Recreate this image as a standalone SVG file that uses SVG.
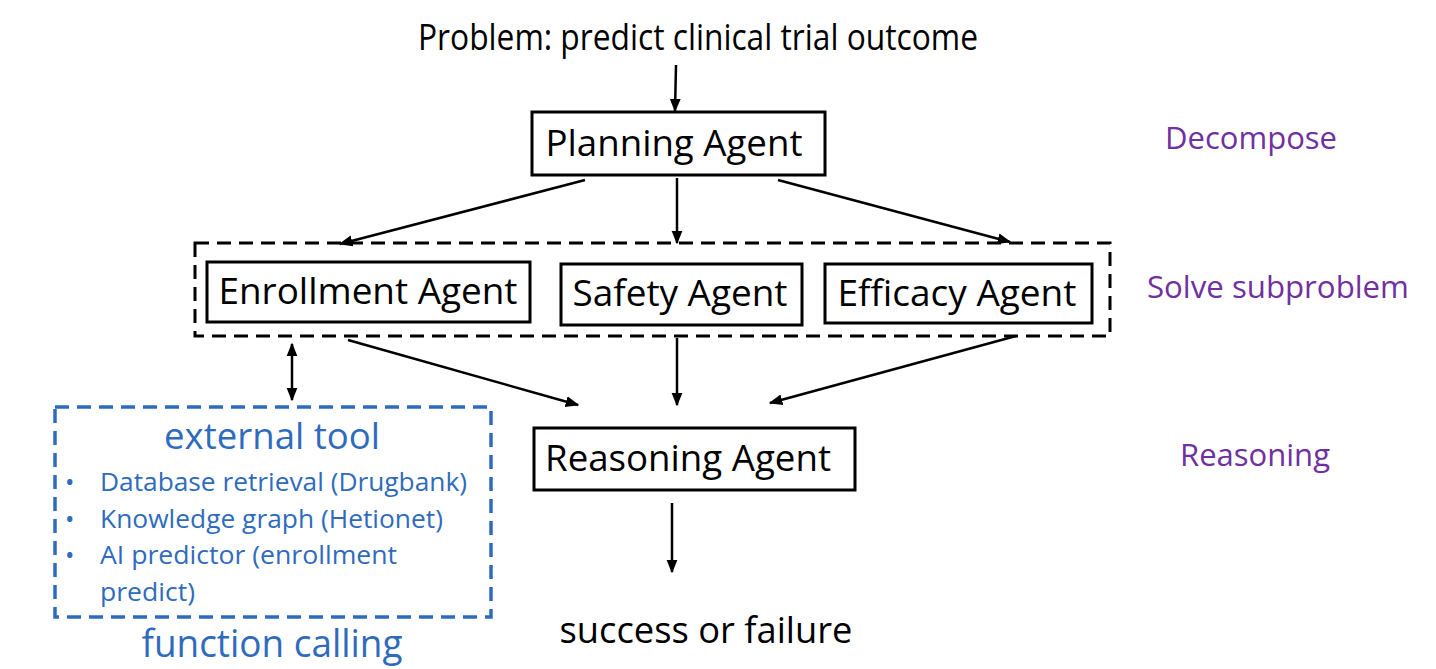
<svg xmlns="http://www.w3.org/2000/svg" width="1436" height="669" viewBox="0 0 1436 669">
<defs>
<marker id="ah" viewBox="0 0 10 10" refX="9" refY="5" markerWidth="5.5" markerHeight="5.5" orient="auto-start-reverse" markerUnits="strokeWidth">
<path d="M0,1 L10,5 L0,9 Z" fill="#000"/>
</marker>
</defs>
<style>
text{font-family:"Open Sans","Noto Sans",sans-serif;}
.box{fill:#fff;stroke:#000;stroke-width:3;}
.lbl{font-size:36px;fill:#000;text-anchor:middle;}
.side{font-size:31px;fill:#7030a0;text-anchor:middle;}
.blue{fill:#2f6bbd;}
.conn line{stroke:#000;stroke-width:2.5;marker-end:url(#ah);}
</style>
<rect width="1436" height="669" fill="#fff"/>
<text id="title" x="698" y="50" class="lbl" font-size="31" textLength="560" lengthAdjust="spacingAndGlyphs">Problem: predict clinical trial outcome</text>
<g id="planning"><rect class="box" x="532" y="112" width="293" height="63"/><text class="lbl" x="674" y="156" textLength="257" lengthAdjust="spacingAndGlyphs">Planning Agent</text></g>
<g id="subgroup"><rect x="195" y="243" width="915" height="93" fill="none" stroke="#000" stroke-width="3" stroke-dasharray="14 8"/></g>
<g id="enrollment"><rect class="box" x="207" y="262" width="323" height="60"/><text class="lbl" x="368" y="304" textLength="299" lengthAdjust="spacingAndGlyphs">Enrollment Agent</text></g>
<g id="safety"><rect class="box" x="561" y="264" width="241" height="61"/><text class="lbl" x="680" y="306" textLength="215" lengthAdjust="spacingAndGlyphs">Safety Agent</text></g>
<g id="efficacy"><rect class="box" x="825" y="264" width="267" height="59"/><text class="lbl" x="957" y="306" textLength="239" lengthAdjust="spacingAndGlyphs">Efficacy Agent</text></g>
<g id="reasoning"><rect class="box" x="534" y="428" width="321" height="62"/><text class="lbl" x="688" y="471" textLength="286" lengthAdjust="spacingAndGlyphs">Reasoning Agent</text></g>
<g id="tool">
<rect x="55" y="407" width="436" height="210" fill="none" stroke="#2f6bbd" stroke-width="3.5" stroke-dasharray="14 8"/>
<text class="blue" x="272" y="449" font-size="36" text-anchor="middle" textLength="216" lengthAdjust="spacingAndGlyphs">external tool</text>
<g font-size="25" class="blue">
<text x="65" y="491">•</text><text x="100" y="491" textLength="367" lengthAdjust="spacingAndGlyphs">Database retrieval (Drugbank)</text>
<text x="65" y="528">•</text><text x="100" y="528" textLength="343" lengthAdjust="spacingAndGlyphs">Knowledge graph (Hetionet)</text>
<text x="65" y="564">•</text><text x="100" y="564" textLength="297" lengthAdjust="spacingAndGlyphs">AI predictor (enrollment</text>
<text x="100" y="601" textLength="95" lengthAdjust="spacingAndGlyphs">predict)</text>
</g>
<text class="blue" x="272" y="657" font-size="38" text-anchor="middle" textLength="261" lengthAdjust="spacingAndGlyphs">function calling</text>
</g>
<g id="outcome"><text class="lbl" x="706" y="643" textLength="293" lengthAdjust="spacingAndGlyphs">success or failure</text></g>
<g id="side-labels">
<text class="side" x="1251" y="149" textLength="172" lengthAdjust="spacingAndGlyphs">Decompose</text>
<text class="side" x="1278" y="298" textLength="262" lengthAdjust="spacingAndGlyphs">Solve subproblem</text>
<text class="side" x="1255" y="466" textLength="150" lengthAdjust="spacingAndGlyphs">Reasoning</text>
</g>
<g id="connectors" class="conn">
<line x1="676" y1="65" x2="675" y2="111"/>
<line x1="585" y1="180" x2="340" y2="244"/>
<line x1="677" y1="178" x2="677" y2="243"/>
<line x1="778" y1="180" x2="1010" y2="242"/>
<line x1="292" y1="344" x2="292" y2="400" marker-start="url(#ah)"/>
<line x1="348" y1="340" x2="578" y2="405"/>
<line x1="677" y1="338" x2="677" y2="405"/>
<line x1="1016" y1="336" x2="770" y2="403"/>
<line x1="672" y1="503" x2="672" y2="572"/>
</g>
</svg>
